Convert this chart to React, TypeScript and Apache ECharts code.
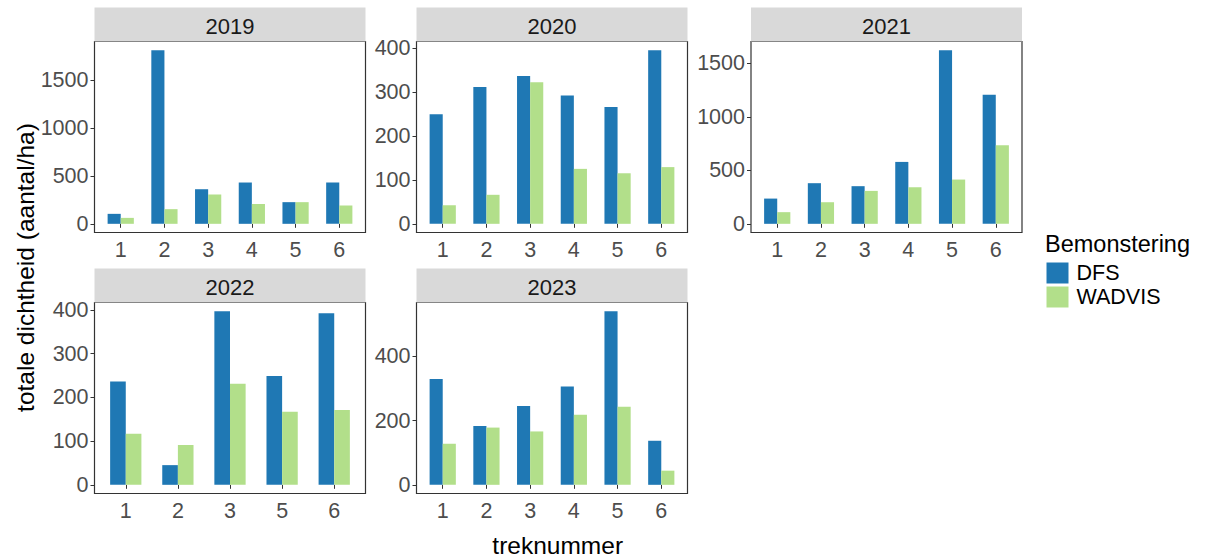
import React, { useEffect, useRef } from "react";
import * as echarts from "echarts";

const years = ["2019", "2020", "2021", "2022", "2023"];
const seriesNames = ["DFS", "WADVIS"];

const treks2019 = ["1", "2", "3", "4", "5", "6"];
const dfs2019 = [104, 1812, 361, 431, 226, 431];
const wadvis2019 = [62, 153, 306, 208, 226, 191];
const ticks2019 = [0, 500, 1000, 1500];

const treks2020 = ["1", "2", "3", "4", "5", "6"];
const dfs2020 = [249, 311, 336, 292, 266, 395];
const wadvis2020 = [42, 66, 322, 125, 115, 129];
const ticks2020 = [0, 100, 200, 300, 400];

const treks2021 = ["1", "2", "3", "4", "5", "6"];
const dfs2021 = [236, 380, 352, 579, 1624, 1207];
const wadvis2021 = [109, 202, 308, 342, 414, 735];
const ticks2021 = [0, 500, 1000, 1500];

const treks2022 = ["1", "2", "3", "5", "6"];
const dfs2022 = [236, 45, 397, 249, 392];
const wadvis2022 = [117, 91, 231, 167, 171];
const ticks2022 = [0, 100, 200, 300, 400];

const treks2023 = ["1", "2", "3", "4", "5", "6"];
const dfs2023 = [329, 183, 245, 306, 540, 137];
const wadvis2023 = [128, 178, 166, 218, 243, 44];
const ticks2023 = [0, 200, 400];

const panels = [
  { year: years[0], treks: treks2019, dfs: dfs2019, wadvis: wadvis2019, ticks: ticks2019 },
  { year: years[1], treks: treks2020, dfs: dfs2020, wadvis: wadvis2020, ticks: ticks2020 },
  { year: years[2], treks: treks2021, dfs: dfs2021, wadvis: wadvis2021, ticks: ticks2021 },
  { year: years[3], treks: treks2022, dfs: dfs2022, wadvis: wadvis2022, ticks: ticks2022 },
  { year: years[4], treks: treks2023, dfs: dfs2023, wadvis: wadvis2023, ticks: ticks2023 },
];

const COLORS = ["#1F78B4", "#B2DF8A"];
const FONT = "'Liberation Sans', Arial, sans-serif";
const PANEL_W = 271;
const PANEL_H = 191;
const COL_LEFT = [94.5, 416.5, 751];
const ROW_TOP = [41.5, 302.5];
const STRIP_H = 34;

export default function App() {
  const ref = useRef<HTMLDivElement>(null);

  useEffect(() => {
    if (!ref.current) return;
    const chart = echarts.init(ref.current, undefined, { renderer: "svg" });

    const grids: any[] = [];
    const xAxes: any[] = [];
    const yAxes: any[] = [];
    const series: any[] = [];
    const graphics: any[] = [];

    panels.forEach((p, i) => {
      const col = i % 3;
      const row = Math.floor(i / 3);
      const left = COL_LEFT[col];
      const top = ROW_TOP[row];
      const n = p.treks.length;
      const maxVal = Math.max(...p.dfs, ...p.wadvis);
      grids.push({
        left,
        top,
        width: PANEL_W,
        height: PANEL_H,
        show: true,
        borderColor: "#333333",
        borderWidth: 1.2,
        backgroundColor: "#ffffff",
        containLabel: false,
      });
      const positions = p.treks.map((_, k) => k + 1);
      xAxes.push({
        type: "value",
        gridIndex: i,
        min: 0.4,
        max: n + 0.6,
        axisLine: { show: false },
        splitLine: { show: false },
        axisTick: {
          show: true,
          customValues: positions,
          length: 4,
          lineStyle: { color: "#333333", width: 1 },
        },
        axisLabel: {
          show: true,
          customValues: positions,
          formatter: (v: number) => p.treks[Math.round(v) - 1] ?? "",
          fontSize: 21.5,
          fontFamily: FONT,
          color: "#4D4D4D",
          margin: 6,
        },
      });
      yAxes.push({
        type: "value",
        gridIndex: i,
        min: -0.05 * maxVal,
        max: 1.05 * maxVal,
        axisLine: { show: false },
        splitLine: { show: false },
        axisTick: {
          show: true,
          customValues: p.ticks,
          length: 4,
          lineStyle: { color: "#333333", width: 1 },
        },
        axisLabel: {
          show: true,
          customValues: p.ticks,
          formatter: (v: number) => String(Math.round(v)),
          fontSize: 21.5,
          fontFamily: FONT,
          color: "#4D4D4D",
          margin: 6,
        },
      });
      const barW = (0.3 * PANEL_W) / (n + 0.2);
      [p.dfs, p.wadvis].forEach((vals, s) => {
        series.push({
          type: "bar",
          name: seriesNames[s],
          xAxisIndex: i,
          yAxisIndex: i,
          data: vals.map((v, k) => [k + 1, v]),
          barWidth: barW,
          barGap: "0%",
          itemStyle: { color: COLORS[s] },
        });
      });
      graphics.push({
        type: "rect",
        shape: { x: left, y: top - STRIP_H, width: PANEL_W, height: STRIP_H },
        style: { fill: "#D9D9D9" },
        silent: true,
      });
      graphics.push({
        type: "text",
        x: left + PANEL_W / 2,
        y: top - STRIP_H / 2 + 1.5,
        style: {
          text: p.year,
          fontSize: 22,
          fontFamily: FONT,
          fill: "#1A1A1A",
          align: "center",
          verticalAlign: "middle",
        },
        silent: true,
      });
    });

    graphics.push({
      type: "text",
      x: 25,
      y: 267.5,
      rotation: Math.PI / 2,
      style: {
        text: "totale dichtheid (aantal/ha)",
        fontSize: 24.5,
        fontFamily: FONT,
        fill: "#000000",
        align: "center",
        verticalAlign: "middle",
      },
      silent: true,
    });
    graphics.push({
      type: "text",
      x: 557.7,
      y: 545,
      style: {
        text: "treknummer",
        fontSize: 24.5,
        fontFamily: FONT,
        fill: "#000000",
        align: "center",
        verticalAlign: "middle",
      },
      silent: true,
    });
    graphics.push({
      type: "text",
      x: 1045,
      y: 243.5,
      style: {
        text: "Bemonstering",
        fontSize: 23.5,
        fontFamily: FONT,
        fill: "#000000",
        align: "left",
        verticalAlign: "middle",
      },
      silent: true,
    });

    chart.setOption({
      animation: false,
      backgroundColor: "#ffffff",
      grid: grids,
      xAxis: xAxes,
      yAxis: yAxes,
      series,
      legend: {
        show: true,
        orient: "vertical",
        left: 1046.5,
        top: 262,
        padding: 0,
        itemGap: 2,
        itemWidth: 22,
        itemHeight: 21,
        icon: "rect",
        data: seriesNames,
        textStyle: { fontSize: 21.5, fontFamily: FONT, color: "#000000", padding: [0, 0, 0, 3] },
        selectedMode: false,
      },
      graphic: graphics,
    });

    return () => chart.dispose();
  }, []);

  return (
    <div
      ref={ref}
      style={{ position: "fixed", left: 0, top: 0, width: 1205, height: 560, background: "#fff" }}
    />
  );
}
